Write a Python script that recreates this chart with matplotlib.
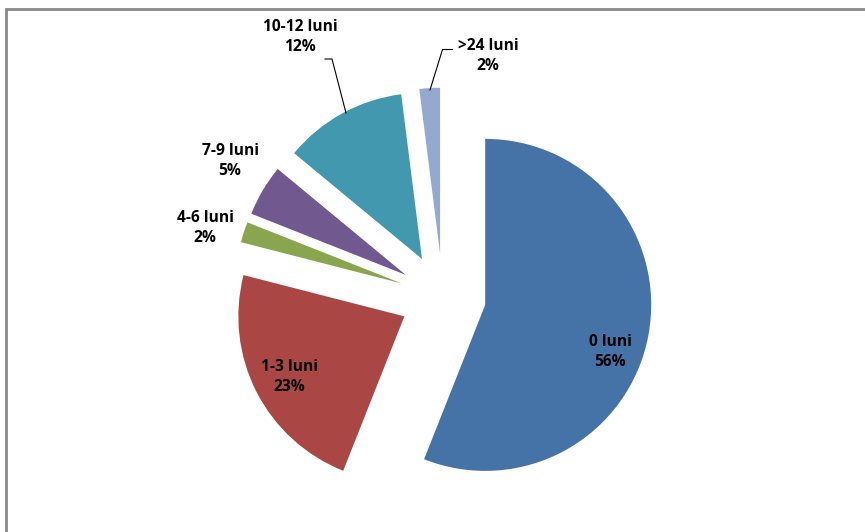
import matplotlib.pyplot as plt
from matplotlib.patches import Rectangle

# data (clockwise from 12 o'clock)
categories = ["0 luni", "1-3 luni", "4-6 luni", "7-9 luni", "10-12 luni", ">24 luni"]
shares = [56, 23, 2, 5, 12, 2]
colors = ["#4572A7", "#AA4643", "#89A54E", "#71588F", "#4198AF", "#93A9CF"]

W, H = 865, 532
R_PX = 166.0            # pie radius in pixels
CX, CY = 442.8, 296.8   # pie centre in pixels (y down)


def px(x, y):
    # pixel position -> data coords (radius 1 = R_PX pixels)
    return (x - CX) / R_PX, (CY - y) / R_PX


fig = plt.figure(figsize=(W / 100, H / 100), dpi=100)
ax = fig.add_axes([0, 0, 1, 1])

ax.pie(shares, colors=colors, startangle=90, counterclock=False,
       explode=[0.26] * len(shares), radius=1.0, center=(0, 0),
       wedgeprops=dict(linewidth=0), frame=False)
ax.set_xlim(-CX / R_PX, (W - CX) / R_PX)
ax.set_ylim(-(H - CY) / R_PX, CY / R_PX)
ax.set_aspect("auto")
ax.axis("off")

font = dict(family=["Open Sans", "DejaVu Sans"], fontweight="bold",
            fontsize=11.2, color="black", ha="center", va="center",
            linespacing=1.35)

label_pos = [(610, 352), (289, 377), (205, 228), (230, 161), (300, 37), (488, 56)]
for name, val, (lx, ly) in zip(categories, shares, label_pos):
    ax.text(*px(lx, ly), f"{name}\n{val}%", **font)

# leader lines
lead_a = [px(325, 59), px(332, 59), px(346, 113)]
lead_b = [px(452.5, 49.5), px(442.5, 49.5), px(430, 90)]
for pts in (lead_a, lead_b):
    ax.plot([p[0] for p in pts], [p[1] for p in pts], color="black", lw=0.8)

# chart area border (runs off the right and bottom edges)
fig.patches.append(Rectangle((6 / W, -0.1), 1.2, (H - 9) / H + 0.1,
                             transform=fig.transFigure, fill=False,
                             edgecolor="#898989", linewidth=2))

fig.savefig("out.png", dpi=100)
